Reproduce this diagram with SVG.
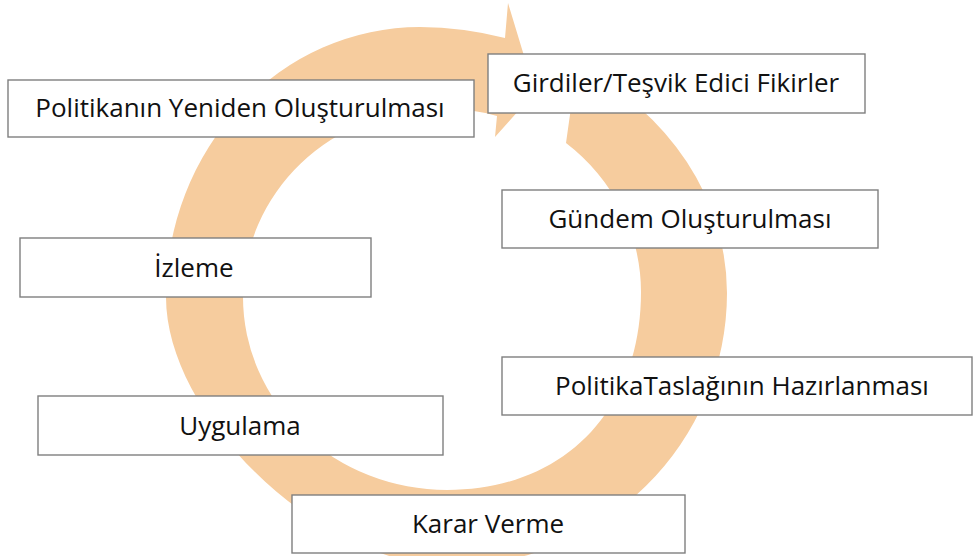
<svg xmlns="http://www.w3.org/2000/svg" width="974" height="556" viewBox="0 0 974 556">
  <style>
    .box { fill: #ffffff; stroke: #7f7f7f; stroke-width: 1.4; }
    .lbl { font-family: "Open Sans", "Liberation Sans", sans-serif; font-size: 26px; fill: #111111; text-anchor: middle; }
    .ring { fill: #F6CC9E; stroke: none; }
  </style>
  <rect width="974" height="556" fill="#ffffff"/>
  <g id="connectors">
    <path class="ring" d="M 577 65 A 307 266 0 0 1 727 293 A 277 273 0 0 1 450 566 C 322 566 166 418 166 297 A 254 270 0 0 1 420 27 A 307 266 0 0 1 505 38 L 508 3 L 535 92 L 495 137 L 497 116 A 200 184 0 0 0 441 108 A 198 189 0 0 0 243 297 A 204 193 0 0 0 447 490 C 563.4 490 641 410.8 641 292 A 200 191 0 0 0 566 143 Z"/>
  </g>
  <g id="node-yeniden">
    <rect class="box" x="8" y="80" width="466" height="57"/>
    <text class="lbl" x="240" y="117">Politikanın Yeniden Oluşturulması</text>
  </g>
  <g id="node-girdiler">
    <rect class="box" x="488" y="54" width="377" height="59"/>
    <text class="lbl" x="676" y="92">Girdiler/Teşvik Edici Fikirler</text>
  </g>
  <g id="node-gundem">
    <rect class="box" x="502" y="190" width="376" height="58"/>
    <text class="lbl" x="690" y="228">Gündem Oluşturulması</text>
  </g>
  <g id="node-izleme">
    <rect class="box" x="20" y="238" width="351" height="59"/>
    <text class="lbl" x="194" y="277">İzleme</text>
  </g>
  <g id="node-taslak">
    <rect class="box" x="502" y="357" width="470" height="58"/>
    <text class="lbl" x="742" y="395">PolitikaTaslağının Hazırlanması</text>
  </g>
  <g id="node-uygulama">
    <rect class="box" x="38" y="396" width="405" height="59"/>
    <text class="lbl" x="240" y="435">Uygulama</text>
  </g>
  <g id="node-karar">
    <rect class="box" x="292" y="495" width="393" height="58"/>
    <text class="lbl" x="488" y="533">Karar Verme</text>
  </g>
</svg>
